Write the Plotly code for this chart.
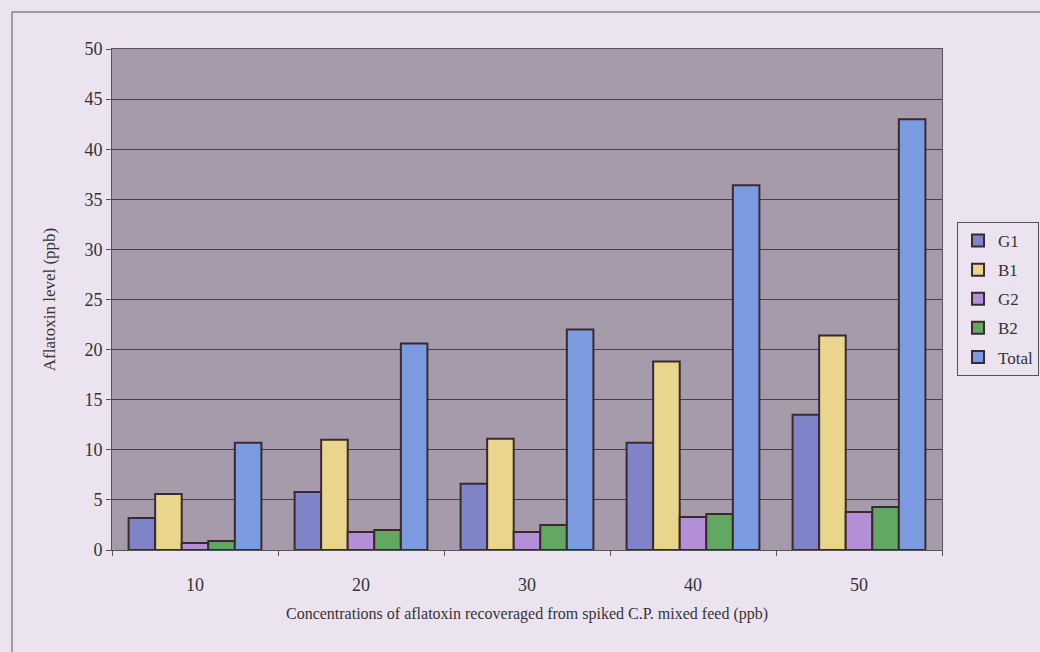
import plotly.graph_objects as go

categories = ["10", "20", "30", "40", "50"]
G1 = [3.2, 5.8, 6.6, 10.7, 13.5]
B1 = [5.6, 11.0, 11.1, 18.8, 21.4]
G2 = [0.7, 1.8, 1.8, 3.3, 3.8]
B2 = [0.9, 2.0, 2.5, 3.6, 4.3]
Total = [10.7, 20.6, 22.0, 36.4, 43.0]
y_ticks = [0, 5, 10, 15, 20, 25, 30, 35, 40, 45, 50]

series = [
    ("G1", G1, "#7f84c9"),
    ("B1", B1, "#e9d68c"),
    ("G2", G2, "#b38fd8"),
    ("B2", B2, "#62a862"),
    ("Total", Total, "#7b9be0"),
]

FONT = "'Liberation Serif', 'Times New Roman', serif"
PAPER = "#ece3f1"
PLOT = "#a59bab"

fig = go.Figure()
for name, vals, col in series:
    fig.add_trace(go.Bar(
        x=categories, y=vals, name=name, legendgroup=name,
        marker=dict(color=col, line=dict(color="#3a2a30", width=2)),
    ))

fig.update_layout(
    width=1040, height=652,
    margin=dict(l=112, r=98, t=49, b=102, autoexpand=False),
    paper_bgcolor=PAPER, plot_bgcolor=PLOT,
    barmode="group", bargap=0.2, bargroupgap=0.0,
    font=dict(family=FONT, color="#333333", size=16),
    showlegend=True,
    legend=dict(
        x=1.1169, y=0.6547, xanchor="right", yanchor="top",
        bgcolor=PAPER, bordercolor="#555555", borderwidth=1,
        font=dict(family=FONT, size=17, color="#333333"),
        traceorder="grouped", tracegroupgap=4,
        itemwidth=30,
    ),
    xaxis=dict(
        type="category", tickson="boundaries", ticks="outside", ticklen=5,
        tickcolor="#555555", showline=True, linecolor="#555555", linewidth=1,
        mirror=True, showgrid=False,
        tickfont=dict(family=FONT, size=18, color="#333333"),
        ticklabelstandoff=18,
        title=dict(text="Concentrations of aflatoxin recoveraged from spiked C.P. mixed feed (ppb)",
                   font=dict(family=FONT, size=16, color="#333333"), standoff=14),
    ),
    yaxis=dict(
        range=[0, 50], tickvals=y_ticks, ticks="outside", ticklen=5,
        tickcolor="#555555", showline=True, linecolor="#555555", linewidth=1,
        mirror=True, showgrid=True, gridcolor="#4a3d4a", gridwidth=1,
        zeroline=False,
        tickfont=dict(family=FONT, size=18, color="#333333"),
        title=dict(text="Aflatoxin level (ppb)",
                   font=dict(family=FONT, size=17, color="#333333"), standoff=24),
    ),
)

# outer chart frame (left and top edges visible)
fig.add_shape(type="path", xref="paper", yref="paper",
              path="M -0.1205,-0.21 L -0.1205,1.0739 L 1.13,1.0739",
              line=dict(color="#555555", width=1))

fig.write_html(
    "out.html",
    config={"displayModeBar": False},
    post_script="document.body.style.margin='0';document.body.style.background='#ece3f1';",
)
